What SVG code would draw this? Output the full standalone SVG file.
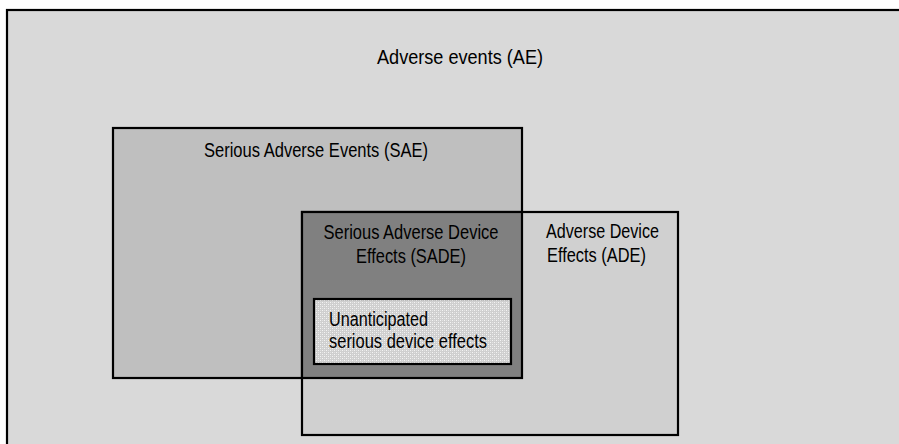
<svg xmlns="http://www.w3.org/2000/svg" width="899" height="444" viewBox="0 0 899 444">
<style>
.box{stroke:#000;stroke-width:2.2}
.lbl{font-family:"Liberation Sans",Arial,sans-serif;font-size:20px;fill:#000}
.mid{text-anchor:middle}
</style>
<defs>
<pattern id="dots" width="4" height="4" patternUnits="userSpaceOnUse">
<rect width="4" height="4" fill="#cfcfcf"/>
<rect x="0" y="0" width="1" height="1" fill="#f4f4f4"/>
<rect x="2" y="2" width="1" height="1" fill="#f4f4f4"/>
<rect x="2" y="0" width="1" height="1" fill="#e2e2e2"/>
<rect x="0" y="2" width="1" height="1" fill="#e2e2e2"/>
</pattern>
</defs>
<rect width="899" height="444" fill="#ffffff"/>
<g id="ae">
<rect class="box" x="7" y="10" width="900" height="450" fill="#d9d9d9" stroke-width="2.5"/>
<text class="lbl mid" x="460" y="64" textLength="166" lengthAdjust="spacingAndGlyphs">Adverse events (AE)</text>
</g>
<g id="sae">
<rect class="box" x="113" y="128" width="409" height="250" fill="#bfbfbf"/>
<text class="lbl mid" x="316" y="157" textLength="224" lengthAdjust="spacingAndGlyphs">Serious Adverse Events (SAE)</text>
</g>
<g id="ade">
<rect class="box" x="302" y="212" width="376" height="223" fill="#d0d0d0"/>
<text class="lbl" x="546" y="238" textLength="113" lengthAdjust="spacingAndGlyphs">Adverse Device</text>
<text class="lbl" x="547" y="261.5" textLength="99" lengthAdjust="spacingAndGlyphs">Effects (ADE)</text>
</g>
<g id="sade">
<rect class="box" x="302" y="212" width="220" height="166" fill="#808080"/>
<text class="lbl mid" x="411" y="239" textLength="175" lengthAdjust="spacingAndGlyphs">Serious Adverse Device</text>
<text class="lbl mid" x="411" y="262.5" textLength="110" lengthAdjust="spacingAndGlyphs">Effects (SADE)</text>
</g>
<g id="unanticipated">
<rect class="box" x="314" y="299" width="197" height="65" fill="url(#dots)"/>
<text class="lbl" x="329" y="326" textLength="99" lengthAdjust="spacingAndGlyphs">Unanticipated</text>
<text class="lbl" x="329" y="348" textLength="158" lengthAdjust="spacingAndGlyphs">serious device effects</text>
</g>
<g id="connectors"/>
</svg>
